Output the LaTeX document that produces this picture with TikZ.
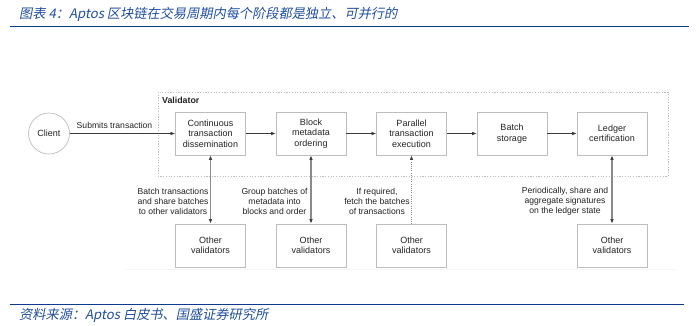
\documentclass[tikz,border=0pt]{standalone}
\usepackage{fontspec}
\setmainfont{Liberation Sans}
\newfontfamily\cjk[FakeSlant=0.2]{Noto Sans CJK SC}
\usetikzlibrary{arrows.meta}
\definecolor{titleblue}{HTML}{1F4E9E}
\definecolor{lineblue}{HTML}{0D3A8A}
\definecolor{boxgray}{HTML}{BDBDBD}
\definecolor{txt}{HTML}{222222}
\definecolor{arr}{HTML}{3C3C3C}
\definecolor{varr}{HTML}{8A8A8A}
\tikzset{
  x=1pt, y=-1pt,
  every node/.style={font=\fontsize{9}{10.5}\selectfont, text=txt, inner sep=0pt},
  stagebox/.style={draw=boxgray, line width=0.7pt, minimum width=70pt, minimum height=43pt, align=center},
  lbl/.style={align=center, font=\fontsize{8.6}{10}\selectfont},
  tip/.style={Latex[length=4.5pt,width=3.6pt,color=arr]},
  harrow/.style={draw=arr, line width=0.6pt, -{Latex[length=4.5pt,width=3.6pt]}},
  varrow/.style={draw=varr, line width=1.1pt, {Latex[length=4.5pt,width=3.6pt,color=arr]}-{Latex[length=4.5pt,width=3.6pt,color=arr]}},
  dotarrow/.style={draw=varr, line width=0.9pt, dash pattern=on 1pt off 1.2pt, {Latex[length=4.5pt,width=3.6pt,color=arr]}-},
  headtext/.style={font=\cjk\fontsize{13.2}{15}\selectfont, text=titleblue, anchor=west},
}
\begin{document}
\begin{tikzpicture}
\useasboundingbox (0,0) rectangle (699,325);
% title and rules
\node[headtext] (title) at (19,14) {图表 4：Aptos 区块链在交易周期内每个阶段都是独立、可并行的};
\coordinate (tl) at (10,26.5); \coordinate (tr) at (689,26.5);
\draw[lineblue, line width=1.1pt] (tl) -- (tr);
\coordinate (bl) at (10,304.5); \coordinate (br) at (684,304.5);
\draw[lineblue, line width=1.1pt] (bl) -- (br);
\node[headtext] (foot) at (19,315) {资料来源：Aptos 白皮书、国盛证券研究所};
% faint image edge
\coordinate (fl) at (125,269.5); \coordinate (fr) at (676,269.5);
\draw[black!4, line width=1pt] (fl) -- (fr);
% validator frame
\draw[boxgray, line width=0.6pt, dash pattern=on 1.2pt off 1.5pt] (158,92) rectangle (668,176);
\node[anchor=west, font=\bfseries\fontsize{8.8}{10}\selectfont] (vlab) at (162,100.5) {Validator};
% client
\node[draw=boxgray, line width=0.7pt, circle, minimum size=41pt] (client) at (49,133.5) {Client};
% stage boxes
\node[stagebox] (s1) at (210.5,133.5) {Continuous\\transaction\\dissemination};
\node[stagebox] (s2) at (311,133.5) {Block\\metadata\\ordering};
\node[stagebox] (s3) at (411.5,133.5) {Parallel\\transaction\\execution};
\node[stagebox] (s4) at (512,133.5) {Batch\\storage};
\node[stagebox] (s5) at (612,133.5) {Ledger\\certification};
% other validators
\node[stagebox] (o1) at (210.5,245.5) {Other\\validators};
\node[stagebox] (o2) at (311,245.5) {Other\\validators};
\node[stagebox] (o3) at (411.5,245.5) {Other\\validators};
\node[stagebox] (o5) at (612,245.5) {Other\\validators};
% horizontal arrows
\draw[harrow] (client) -- (s1);
\node[font=\fontsize{8.6}{10}\selectfont] (sub) at (114.5,125.5) {Submits transaction};
\draw[harrow] (s1) -- (s2);
\draw[harrow] (s2) -- (s3);
\draw[harrow] (s3) -- (s4);
\draw[harrow] (s4) -- (s5);
% vertical arrows
\draw[varrow] (s1) -- (o1);
\draw[varrow] (s2) -- (o2);
\draw[dotarrow] (s3) -- (o3);
\draw[varrow] (s5) -- (o5);
% labels
\node[lbl] (l1) at (173,201) {Batch transactions\\and share batches\\to other validators};
\node[lbl] (l2) at (274.5,201) {Group batches of\\metadata into\\blocks and order};
\node[lbl] (l3) at (377,201) {If required,\\fetch the batches\\of transactions};
\node[lbl] (l5) at (565,201) {Periodically, share and\\aggregate signatures\\on the ledger state};
\end{tikzpicture}
\end{document}
